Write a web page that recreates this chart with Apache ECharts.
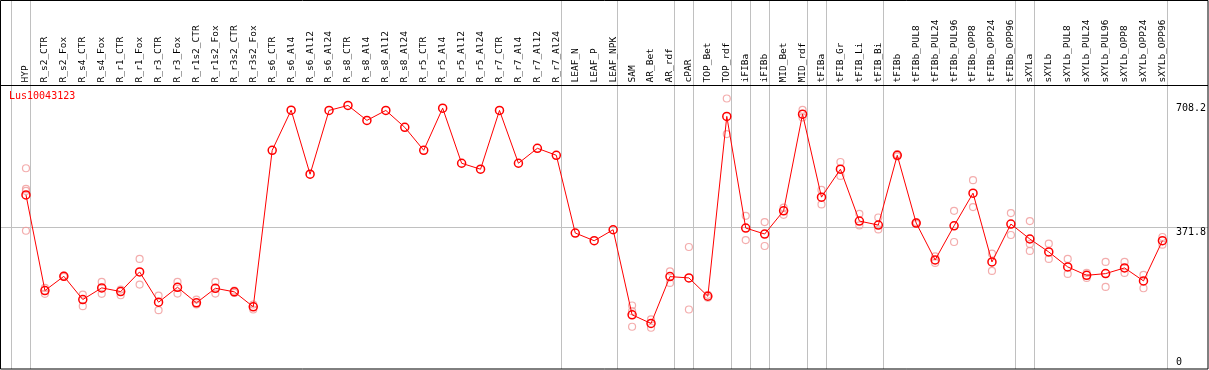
<!DOCTYPE html>
<html><head><meta charset="utf-8">
<script src="https://cdn.jsdelivr.net/npm/echarts@6/dist/echarts.min.js"></script>
<style>html,body{margin:0;padding:0;background:#fff}#c{width:1209px;height:370px}</style>
</head><body><div id="c"></div>
<script>
const N = null;
const titleText = 'Lus10043123';
const categories = ['HYP','R_s2_CTR','R_s2_Fox','R_s4_CTR','R_s4_Fox','R_r1_CTR','R_r1_Fox','R_r3_CTR','R_r3_Fox','R_r1s2_CTR','R_r1s2_Fox','R_r3s2_CTR','R_r3s2_Fox',
  'R_s6_CTR','R_s6_Al4','R_s6_Al12','R_s6_Al24','R_s8_CTR','R_s8_Al4','R_s8_Al12','R_s8_Al24','R_r5_CTR','R_r5_Al4','R_r5_Al12','R_r5_Al24','R_r7_CTR','R_r7_Al4','R_r7_Al12','R_r7_Al24',
  'LEAF_N','LEAF_P','LEAF_NPK','SAM','AR_Bet','AR_rdf','cPAR','TOP_Bet','TOP_rdf','iFIBa','iFIBb','MID_Bet','MID_rdf','tFIBa','tFIB_Gr','tFIB_Li','tFIB_Bi',
  'tFIBb','tFIBb_PUL8','tFIBb_PUL24','tFIBb_PUL96','tFIBb_OPP8','tFIBb_OPP24','tFIBb_OPP96','sXYLa','sXYLb','sXYLb_PUL8','sXYLb_PUL24','sXYLb_PUL96','sXYLb_OPP8','sXYLb_OPP24','sXYLb_OPP96'];
const meanValues = [456.8,207.2,244.4,183.8,214.2,204.6,255.9,176.8,215.8,175.2,213.2,203.8,164.8,
  573.1,677.8,510.7,677.1,690.1,651.1,677.1,632.9,573.1,683.0,539.3,523.7,677.1,539.3,578.3,560.1,
  357.3,337.2,365.8,144.0,121.4,243.6,240.2,192.4,661.5,370.3,354.7,415.2,667.4,450.9,523.7,388.5,378.1,
  560.1,383.3,287.1,376.2,461.3,281.9,380.7,341.7,307.9,268.9,247.0,251.4,266.3,232.4,337.2];
const rep1 = [526.3,214.2,246,196.8,229.8,209.8,289.7,194.2,229.8,183.8,229.8,207,170.8,
  N,N,N,N,N,N,N,N,N,N,N,N,N,N,N,N,
  N,N,N,168.2,131.8,257.4,320.8,196,708.2,402.2,385.9,423.8,678.6,469.8,542.6,407.4,397.8,
  563,386,296.4,415.2,495.1,303.4,409.3,388.5,329.4,289.7,253.3,281.9,281.9,248.0,346.9];
const rep2 = [472.4,198.6,243,166.4,198.6,195.0,222.8,156.0,199.4,170.8,199.4,201,157.8,
  N,N,N,N,N,N,N,N,N,N,N,N,N,N,N,N,
  N,N,N,153.4,110.2,227.2,157.8,188.5,615.4,339.0,323.5,404.8,658.9,432.0,506.2,377.0,366.6,
  557,381,279.3,333.9,424.9,258.5,352.1,328.6,289.7,250.7,240.3,216.8,253.3,213.2,326.8];
const rep3 = [467.2,N,N,N,N,N,N,N,N,N,N,N,N,
  N,N,N,N,N,N,N,N,N,N,N,N,N,N,N,N,
  N,N,N,112.8,N,N,N,N,N,N,N,N,N,N,N,N,N,
  N,N,N,N,N,N,N,310.5,N,N,N,N,N,N,N];
const rep4 = [363.2,N,N,N,N,N,N,N,N,N,N,N,N,
  N,N,N,N,N,N,N,N,N,N,N,N,N,N,N,N,
  N,N,N,N,N,N,N,N,N,N,N,N,N,N,N,N,N,
  N,N,N,N,N,N,N,N,N,N,N,N,N,N,N];
const yTickValues = [0, 371.8, 708.2];
const refLineValue = 371.8;
const groupEnds = [-1,0,28,31,34,35,37,38,39,41,42,45,52,53,60];

const chart = echarts.init(document.getElementById('c'), null, {renderer:'canvas'});
const repPoints = [];
[rep1, rep2, rep3, rep4].forEach(r => r.forEach((v, i) => { if (v != null) repPoints.push([i, v]); }));
const FONT = '"DejaVu Sans Mono", "Liberation Mono", monospace';

chart.setOption({
  animation: false,
  backgroundColor: '#fff',
  title: { text: titleText, left: 9, top: 91, padding: 0,
    textStyle: { color: '#ff0000', fontFamily: FONT, fontSize: 10, fontWeight: 'normal' } },
  grid: { left: 16.5, width: 1159, top: 98.5, height: 271.5, containLabel: false },
  xAxis: [{
    type: 'category', data: categories, position: 'top', boundaryGap: true,
    axisLine: { show: false }, axisTick: { show: false }, splitLine: { show: false },
    axisLabel: { rotate: 90, interval: 0, margin: 16, color: '#000', fontFamily: FONT, fontSize: 9.5 }
  }, {
    type: 'value', min: -0.5, max: categories.length - 0.5, show: false
  }],
  yAxis: [{
    type: 'value', min: 0, max: 708.2, position: 'right',
    axisLine: { show: false }, axisTick: { show: false }, splitLine: { show: false },
    axisLabel: {
      customValues: yTickValues, margin: 4, color: '#000', fontFamily: FONT, fontSize: 10,
      formatter: v => v === yTickValues[2] ? '{t|' + v + '}' : (v === yTickValues[0] ? '{b|' + v + '}' : '{m|' + v + '}'),
      rich: {
        t: { padding: [19, 0, 0, 0], fontFamily: FONT, fontSize: 10, color: '#000' },
        m: { padding: [10, 0, 0, 0], fontFamily: FONT, fontSize: 10, color: '#000' },
        b: { padding: [0, 0, 16, 0], fontFamily: FONT, fontSize: 10, color: '#000' }
      }
    }
  }],
  series: [{
    type: 'scatter', xAxisIndex: 0, data: repPoints, symbol: 'circle', symbolSize: 7, z: 2,
    itemStyle: { color: 'rgba(0,0,0,0)', borderColor: '#f09898', borderWidth: 1.2 }
  }, {
    type: 'line', xAxisIndex: 0, data: meanValues, symbol: 'circle', symbolSize: 8, showSymbol: true, z: 3,
    lineStyle: { color: '#ff0000', width: 1 },
    itemStyle: { color: 'rgba(0,0,0,0)', borderColor: '#ff0000', borderWidth: 1.5 }
  }]
});

const W = 1208, H = 369;
const graphics = [];
const px0 = chart.convertToPixel({ xAxisIndex: 1 }, 0);
const px1 = chart.convertToPixel({ xAxisIndex: 1 }, 1);
const step = px1 - px0;
groupEnds.forEach(k => {
  const x = Math.floor(px0 + step * (k + 0.25)) + 0.5;
  graphics.push({ type: 'line', z: 0, silent: true, shape: { x1: x, y1: 0, x2: x, y2: H }, style: { stroke: '#c0c0c0', lineWidth: 1 } });
});
const ry = Math.floor(chart.convertToPixel({ yAxisIndex: 0 }, refLineValue)) + 0.5;
graphics.push({ type: 'line', z: 0, silent: true, shape: { x1: 0, y1: ry, x2: W, y2: ry }, style: { stroke: '#c0c0c0', lineWidth: 1 } });
graphics.push({ type: 'line', z: 100, silent: true, shape: { x1: 0, y1: 85.5, x2: W, y2: 85.5 }, style: { stroke: '#000', lineWidth: 1 } });
graphics.push({ type: 'rect', z: 100, silent: true, shape: { x: 0.5, y: 0.5, width: W - 0.5, height: H - 0.5 }, style: { fill: 'none', stroke: '#000', lineWidth: 1 } });
chart.setOption({ graphic: graphics });
</script></body></html>
